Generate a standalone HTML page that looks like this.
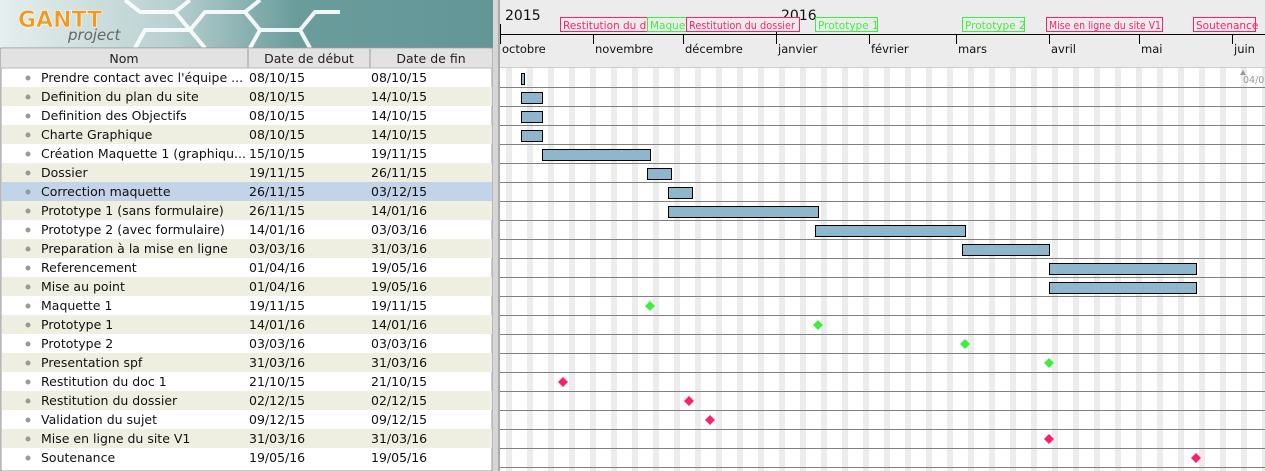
<!DOCTYPE html>
<html><head><meta charset="utf-8"><style>
html,body{margin:0;padding:0;background:#fff;width:1265px;height:471px;overflow:hidden}
svg{display:block}
text{font-family:"DejaVu Sans","Liberation Sans",sans-serif}
</style></head><body>
<svg width="1265" height="471" viewBox="0 0 1265 471" xmlns="http://www.w3.org/2000/svg">
<defs>
<linearGradient id="lg" x1="0" x2="1" y1="0" y2="0">
<stop offset="0" stop-color="#e6eeee"/><stop offset="0.35" stop-color="#b8d0d0"/><stop offset="0.6" stop-color="#6a9c9c"/><stop offset="1" stop-color="#639797"/></linearGradient>
<pattern id="wk" x="506" y="0" width="21" height="10" patternUnits="userSpaceOnUse"><rect x="0" y="0" width="6" height="10" fill="#ececec"/></pattern>
</defs>
<rect x="0" y="0" width="1265" height="471" fill="#d6d6d6"/>
<!-- logo -->
<rect x="0" y="0" width="493" height="48" fill="url(#lg)"/>
<g fill="none" stroke="#fff" stroke-width="4" opacity="0.9">
<path d="M125 0 L140 12 L175 12 L190 0"/>
<path d="M135 48 L145 30 L190 30 L205 12 L245 12 L260 0"/>
<path d="M190 30 L205 48"/>
<path d="M245 12 L260 30 L300 30 L315 12 L340 12"/>
<path d="M260 30 L250 48"/>
<path d="M300 30 L310 48"/>
<path d="M175 12 L190 30"/>
</g>
<text x="18" y="27" font-size="22" font-weight="bold" fill="#f39a1e" stroke="#fff" stroke-width="0.6">GANTT</text>
<text x="68" y="40" font-size="15" font-style="italic" fill="#666" font-family="Liberation Serif,serif">project</text>
<!-- table -->
<rect x="1" y="48" width="491" height="423" fill="#fff" stroke="#999"/>
<rect x="1" y="49" width="491" height="19" fill="#e2e2e2"/>
<line x1="248" y1="49" x2="248" y2="68" stroke="#999"/>
<line x1="370" y1="49" x2="370" y2="68" stroke="#999"/>
<line x1="1" y1="68" x2="492" y2="68" stroke="#bbb"/>
<g font-size="12.5" fill="#222">
<text x="124" y="63" text-anchor="middle">Nom</text>
<text x="309" y="63" text-anchor="middle">Date de début</text>
<text x="431" y="63" text-anchor="middle">Date de fin</text>
</g>
<g transform="translate(0,1)">
<g fill="#efefe1">
<rect x="2" y="86" width="490" height="19"/><rect x="2" y="124" width="490" height="19"/>
<rect x="2" y="162" width="490" height="19"/><rect x="2" y="200" width="490" height="19"/>
<rect x="2" y="238" width="490" height="19"/><rect x="2" y="276" width="490" height="19"/>
<rect x="2" y="314" width="490" height="19"/><rect x="2" y="352" width="490" height="19"/>
<rect x="2" y="390" width="490" height="19"/><rect x="2" y="428" width="490" height="19"/>
</g>
<rect x="2" y="181" width="490" height="19" fill="#c3d3e8"/>
<g fill="#999">
<circle cx="28" cy="77" r="2.5"/><circle cx="28" cy="96" r="2.5"/><circle cx="28" cy="115" r="2.5"/><circle cx="28" cy="134" r="2.5"/><circle cx="28" cy="153" r="2.5"/><circle cx="28" cy="172" r="2.5"/><circle cx="28" cy="191" r="2.5"/><circle cx="28" cy="210" r="2.5"/><circle cx="28" cy="229" r="2.5"/><circle cx="28" cy="248" r="2.5"/><circle cx="28" cy="267" r="2.5"/><circle cx="28" cy="286" r="2.5"/><circle cx="28" cy="305" r="2.5"/><circle cx="28" cy="324" r="2.5"/><circle cx="28" cy="343" r="2.5"/><circle cx="28" cy="362" r="2.5"/><circle cx="28" cy="381" r="2.5"/><circle cx="28" cy="400" r="2.5"/><circle cx="28" cy="419" r="2.5"/><circle cx="28" cy="438" r="2.5"/><circle cx="28" cy="457" r="2.5"/>
</g>
<g font-size="12.5" fill="#111">
<text x="41" y="81">Prendre contact avec l'équipe ...</text><text x="249" y="81">08/10/15</text><text x="371" y="81">08/10/15</text>
<text x="41" y="100">Definition du plan du site</text><text x="249" y="100">08/10/15</text><text x="371" y="100">14/10/15</text>
<text x="41" y="119">Definition des Objectifs</text><text x="249" y="119">08/10/15</text><text x="371" y="119">14/10/15</text>
<text x="41" y="138">Charte Graphique</text><text x="249" y="138">08/10/15</text><text x="371" y="138">14/10/15</text>
<text x="41" y="157">Création Maquette 1 (graphiqu...</text><text x="249" y="157">15/10/15</text><text x="371" y="157">19/11/15</text>
<text x="41" y="176">Dossier</text><text x="249" y="176">19/11/15</text><text x="371" y="176">26/11/15</text>
<text x="41" y="195">Correction maquette</text><text x="249" y="195">26/11/15</text><text x="371" y="195">03/12/15</text>
<text x="41" y="214">Prototype 1 (sans formulaire)</text><text x="249" y="214">26/11/15</text><text x="371" y="214">14/01/16</text>
<text x="41" y="233">Prototype 2 (avec formulaire)</text><text x="249" y="233">14/01/16</text><text x="371" y="233">03/03/16</text>
<text x="41" y="252">Preparation à la mise en ligne</text><text x="249" y="252">03/03/16</text><text x="371" y="252">31/03/16</text>
<text x="41" y="271">Referencement</text><text x="249" y="271">01/04/16</text><text x="371" y="271">19/05/16</text>
<text x="41" y="290">Mise au point</text><text x="249" y="290">01/04/16</text><text x="371" y="290">19/05/16</text>
<text x="41" y="309">Maquette 1</text><text x="249" y="309">19/11/15</text><text x="371" y="309">19/11/15</text>
<text x="41" y="328">Prototype 1</text><text x="249" y="328">14/01/16</text><text x="371" y="328">14/01/16</text>
<text x="41" y="347">Prototype 2</text><text x="249" y="347">03/03/16</text><text x="371" y="347">03/03/16</text>
<text x="41" y="366">Presentation spf</text><text x="249" y="366">31/03/16</text><text x="371" y="366">31/03/16</text>
<text x="41" y="385">Restitution du doc 1</text><text x="249" y="385">21/10/15</text><text x="371" y="385">21/10/15</text>
<text x="41" y="404">Restitution du dossier</text><text x="249" y="404">02/12/15</text><text x="371" y="404">02/12/15</text>
<text x="41" y="423">Validation du sujet</text><text x="249" y="423">09/12/15</text><text x="371" y="423">09/12/15</text>
<text x="41" y="442">Mise en ligne du site V1</text><text x="249" y="442">31/03/16</text><text x="371" y="442">31/03/16</text>
<text x="41" y="461">Soutenance</text><text x="249" y="461">19/05/16</text><text x="371" y="461">19/05/16</text>
</g>
</g>
<!-- chart -->
<rect x="498" y="0" width="767" height="471" fill="#ececec"/>
<line x1="499" y1="0" x2="499" y2="471" stroke="#aaa" stroke-width="2"/>
<rect x="500" y="67" width="765" height="404" fill="#fff"/>
<rect x="500" y="67" width="765" height="404" fill="url(#wk)"/>
<line x1="500" y1="67.5" x2="1265" y2="67.5" stroke="#ccc"/>
<g transform="translate(0,1)">
<g stroke="#808080" stroke-width="1">
<line x1="500" y1="86.5" x2="1265" y2="86.5"/><line x1="500" y1="105.5" x2="1265" y2="105.5"/><line x1="500" y1="124.5" x2="1265" y2="124.5"/><line x1="500" y1="143.5" x2="1265" y2="143.5"/><line x1="500" y1="162.5" x2="1265" y2="162.5"/><line x1="500" y1="181.5" x2="1265" y2="181.5"/><line x1="500" y1="200.5" x2="1265" y2="200.5"/><line x1="500" y1="219.5" x2="1265" y2="219.5"/><line x1="500" y1="238.5" x2="1265" y2="238.5"/><line x1="500" y1="257.5" x2="1265" y2="257.5"/><line x1="500" y1="276.5" x2="1265" y2="276.5"/><line x1="500" y1="295.5" x2="1265" y2="295.5"/><line x1="500" y1="314.5" x2="1265" y2="314.5"/><line x1="500" y1="333.5" x2="1265" y2="333.5"/><line x1="500" y1="352.5" x2="1265" y2="352.5"/><line x1="500" y1="371.5" x2="1265" y2="371.5"/><line x1="500" y1="390.5" x2="1265" y2="390.5"/><line x1="500" y1="409.5" x2="1265" y2="409.5"/><line x1="500" y1="428.5" x2="1265" y2="428.5"/><line x1="500" y1="447.5" x2="1265" y2="447.5"/><line x1="500" y1="466.5" x2="1265" y2="466.5"/>
</g>
<g fill="#8eb6cc" stroke="#000" stroke-width="1">
<rect x="521.5" y="72.5" width="3" height="11"/>
<rect x="521.5" y="91.5" width="21" height="11"/>
<rect x="521.5" y="110.5" width="21" height="11"/>
<rect x="521.5" y="129.5" width="21" height="11"/>
<rect x="542.5" y="148.5" width="108" height="11"/>
<rect x="647.5" y="167.5" width="24" height="11"/>
<rect x="668.5" y="186.5" width="24" height="11"/>
<rect x="668.5" y="205.5" width="150" height="11"/>
<rect x="815.5" y="224.5" width="150" height="11"/>
<rect x="962.5" y="243.5" width="87" height="11"/>
<rect x="1049.5" y="262.5" width="147" height="11"/>
<rect x="1049.5" y="281.5" width="147" height="11"/>
</g>
<g fill="#3fef3f">
<path d="M650 300 L655 305 L650 310 L645 305 Z"/>
<path d="M818 319 L823 324 L818 329 L813 324 Z"/>
<path d="M965 338 L970 343 L965 348 L960 343 Z"/>
<path d="M1049 357 L1054 362 L1049 367 L1044 362 Z"/>
</g>
<g fill="#ff1f6b">
<path d="M563 376 L568 381 L563 386 L558 381 Z"/>
<path d="M689 395 L694 400 L689 405 L684 400 Z"/>
<path d="M710 414 L715 419 L710 424 L705 419 Z"/>
<path d="M1049 433 L1054 438 L1049 443 L1044 438 Z"/>
<path d="M1196 452 L1201 457 L1196 462 L1191 457 Z"/>
</g>
</g>
<!-- timeline header -->
<g font-size="14" fill="#111"><text x="505" y="20">2015</text><text x="781" y="20">2016</text></g>
<line x1="500" y1="34.5" x2="1265" y2="34.5" stroke="#000"/>
<g stroke="#000"><line x1="500.5" y1="24" x2="500.5" y2="44"/><line x1="593.5" y1="35" x2="593.5" y2="44"/><line x1="683.5" y1="35" x2="683.5" y2="44"/><line x1="776.5" y1="30" x2="776.5" y2="44"/><line x1="869.5" y1="35" x2="869.5" y2="44"/><line x1="956.5" y1="35" x2="956.5" y2="44"/><line x1="1049.5" y1="35" x2="1049.5" y2="44"/><line x1="1139.5" y1="35" x2="1139.5" y2="44"/><line x1="1232.5" y1="35" x2="1232.5" y2="44"/></g>
<g font-size="11.5" fill="#111">
<text x="502" y="53">octobre</text><text x="595" y="53">novembre</text><text x="685" y="53">décembre</text><text x="778" y="53">janvier</text><text x="871" y="53">février</text><text x="958" y="53">mars</text><text x="1051" y="53">avril</text><text x="1141" y="53">mai</text><text x="1234" y="53">juin</text>
</g>
<g font-size="10.5">
<rect x="560.5" y="17.5" width="100" height="14" fill="#ececec" stroke="#ff1f6b"/><text x="563" y="29" fill="#ff1f6b">Restitution du doc</text>
<rect x="647.5" y="17.5" width="60" height="14" fill="#ececec" stroke="#3fef3f"/><text x="650" y="29" fill="#3fef3f">Maquette</text>
<rect x="686.5" y="17.5" width="113" height="14" fill="#ececec" stroke="#ff1f6b"/><text x="689" y="29" fill="#ff1f6b" textLength="106" lengthAdjust="spacingAndGlyphs">Restitution du dossier</text>
<rect x="815.5" y="17.5" width="62" height="14" fill="#ececec" stroke="#3fef3f"/><text x="818" y="29" fill="#3fef3f">Prototype 1</text>
<rect x="962.5" y="17.5" width="62" height="14" fill="#ececec" stroke="#3fef3f"/><text x="965" y="29" fill="#3fef3f">Prototype 2</text>
<rect x="1046.5" y="17.5" width="116" height="14" fill="#ececec" stroke="#ff1f6b"/><text x="1049" y="29" fill="#ff1f6b" textLength="112" lengthAdjust="spacingAndGlyphs">Mise en ligne du site V1</text>
<rect x="1193.5" y="17.5" width="62" height="14" fill="#ececec" stroke="#ff1f6b"/><text x="1196" y="29" fill="#ff1f6b">Soutenance</text>
</g>
<path d="M1240 75 L1243 70 L1246 75 Z" fill="#999"/>
<text x="1243" y="83" font-size="9.5" fill="#999">04/0</text>
</svg>
</body></html>
